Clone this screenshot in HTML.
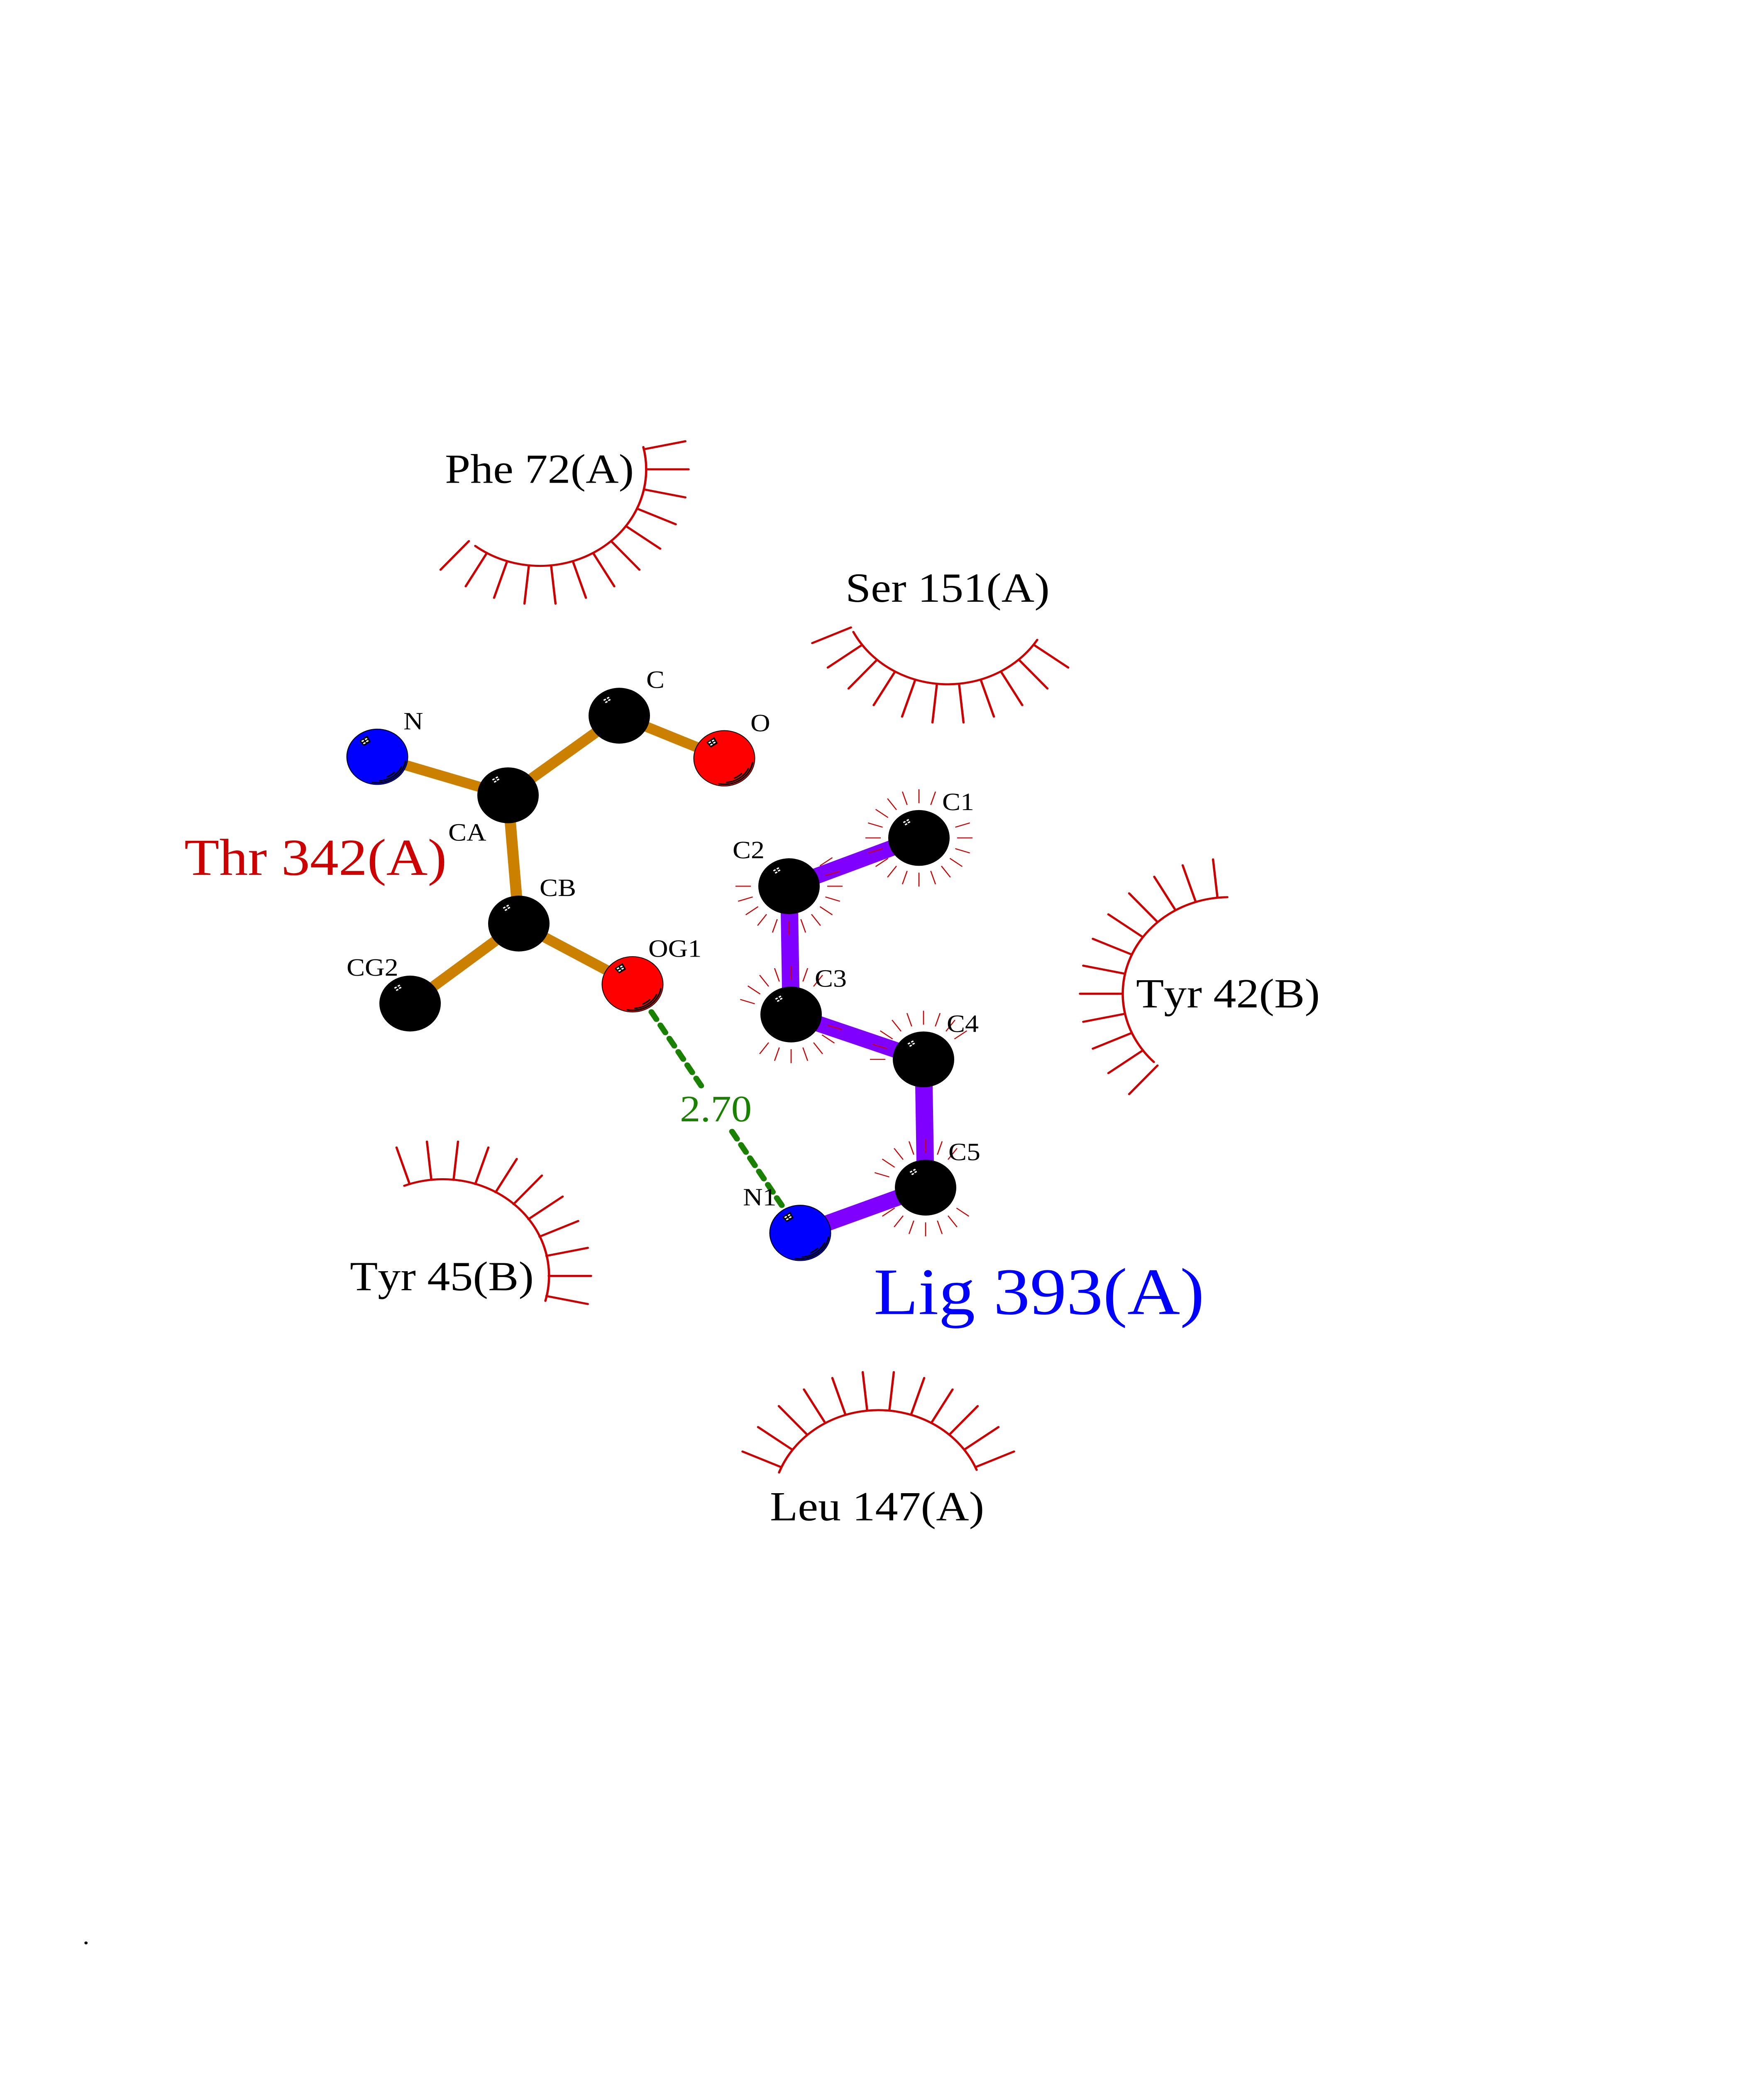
<!DOCTYPE html>
<html>
<head>
<meta charset="utf-8">
<title>Thr 342(A) – Lig 393(A)</title>
<style>
html,body{margin:0;padding:0;background:#fff;width:100%;height:100%;overflow:hidden}
svg{display:block;width:100vw;height:100vh}
text{font-family:"Liberation Serif","Times New Roman",serif;font-kerning:none;text-rendering:geometricPrecision;white-space:pre}
.sp path{fill:none;stroke:#cc0000;stroke-width:5.5;stroke-linecap:round}
.hr path{fill:none;stroke:#cc0000;stroke-width:2.6}
.am{stroke:#cc8000;stroke-width:27;fill:none}
.pu{stroke:#8000ff;stroke-width:42;fill:none}
.hb path{fill:none;stroke:#1a8000;stroke-width:14;stroke-linecap:round}
</style>
</head>
<body>
<svg xmlns="http://www.w3.org/2000/svg" viewBox="0 0 4250 5500" preserveAspectRatio="none">
<defs>
<g id="d" fill="#fff">
<rect x="-38" y="-44" width="6" height="3.6" transform="rotate(-30 -35 -42.2)"/>
<rect x="-30" y="-49" width="6" height="3.6" transform="rotate(-30 -27 -47.2)"/>
<rect x="-27" y="-43.3" width="6" height="3.6" transform="rotate(-30 -24 -41.5)"/>
<rect x="-34" y="-38" width="6" height="3.6" transform="rotate(-30 -31 -36.2)"/>
</g>
<g id="h">
<path d="M-42 -42L-24.5 -55L-17 -40L-32 -30Z" fill="#000" stroke="#000" stroke-width="2" stroke-linejoin="round"/>
<use href="#d"/>
<g fill="none" stroke="#000" stroke-width="3.6" stroke-linecap="round">
<path d="M-12.7 67.7A69 69 0 0 0 68 11.7"/>
<path d="M5.7 63.7A64 64 0 0 0 58 27"/>
<path d="M24.7 52.3A58 58 0 0 0 41.3 41"/>
</g>
</g>
</defs>

<!-- residue eyelashes -->
<g class="sp" transform="translate(1301 1244)">
<path d="M249 -59A256 256 0 0 1 -156 203"/>
<path transform="rotate(-12)" d="M256 0H358"/><path d="M256 0H358"/><path transform="rotate(12)" d="M256 0H358"/><path transform="rotate(24)" d="M256 0H358"/><path transform="rotate(36)" d="M256 0H358"/><path transform="rotate(48)" d="M256 0H358"/><path transform="rotate(60)" d="M256 0H358"/><path transform="rotate(72)" d="M256 0H358"/><path transform="rotate(84)" d="M256 0H358"/><path transform="rotate(96)" d="M256 0H358"/><path transform="rotate(108)" d="M256 0H358"/><path transform="rotate(120)" d="M256 0H358"/><path transform="rotate(132)" d="M256 0H358"/>
</g>
<g class="sp" transform="translate(2284 1559)">
<path d="M215 137A256 256 0 0 1 -228 116"/>
<path transform="rotate(36)" d="M256 0H358"/><path transform="rotate(48)" d="M256 0H358"/><path transform="rotate(60)" d="M256 0H358"/><path transform="rotate(72)" d="M256 0H358"/><path transform="rotate(84)" d="M256 0H358"/><path transform="rotate(96)" d="M256 0H358"/><path transform="rotate(108)" d="M256 0H358"/><path transform="rotate(120)" d="M256 0H358"/><path transform="rotate(132)" d="M256 0H358"/><path transform="rotate(144)" d="M256 0H358"/><path transform="rotate(156)" d="M256 0H358"/>
</g>
<g class="sp" transform="translate(2960 2634)">
<path d="M-3 -256A256 256 0 0 0 -180 181"/>
<path transform="rotate(264)" d="M256 0H358"/><path transform="rotate(252)" d="M256 0H358"/><path transform="rotate(240)" d="M256 0H358"/><path transform="rotate(228)" d="M256 0H358"/><path transform="rotate(216)" d="M256 0H358"/><path transform="rotate(204)" d="M256 0H358"/><path transform="rotate(192)" d="M256 0H358"/><path transform="rotate(180)" d="M256 0H358"/><path transform="rotate(168)" d="M256 0H358"/><path transform="rotate(156)" d="M256 0H358"/><path transform="rotate(144)" d="M256 0H358"/><path transform="rotate(132)" d="M256 0H358"/>
</g>
<g class="sp" transform="translate(1066 3382)">
<path d="M-92 -239A256 256 0 0 1 248 66"/>
<path transform="rotate(-108)" d="M256 0H358"/><path transform="rotate(-96)" d="M256 0H358"/><path transform="rotate(-84)" d="M256 0H358"/><path transform="rotate(-72)" d="M256 0H358"/><path transform="rotate(-60)" d="M256 0H358"/><path transform="rotate(-48)" d="M256 0H358"/><path transform="rotate(-36)" d="M256 0H358"/><path transform="rotate(-24)" d="M256 0H358"/><path transform="rotate(-12)" d="M256 0H358"/><path d="M256 0H358"/><path transform="rotate(12)" d="M256 0H358"/>
</g>
<g class="sp" transform="translate(2116 3993)">
<path d="M-239 -90A256 256 0 0 1 237 -97"/>
<path transform="rotate(204)" d="M256 0H358"/><path transform="rotate(216)" d="M256 0H358"/><path transform="rotate(228)" d="M256 0H358"/><path transform="rotate(240)" d="M256 0H358"/><path transform="rotate(252)" d="M256 0H358"/><path transform="rotate(264)" d="M256 0H358"/><path transform="rotate(276)" d="M256 0H358"/><path transform="rotate(288)" d="M256 0H358"/><path transform="rotate(300)" d="M256 0H358"/><path transform="rotate(312)" d="M256 0H358"/><path transform="rotate(324)" d="M256 0H358"/><path transform="rotate(336)" d="M256 0H358"/>
</g>

<!-- bonds -->
<g class="am">
<path d="M909 2006L1224 2108"/>
<path d="M1224 2108L1492 1897"/>
<path d="M1492 1897L1745 2010"/>
<path d="M1224 2108L1250 2448"/>
<path d="M1250 2448L988 2660"/>
<path d="M1250 2448L1524 2608"/>
</g>
<g class="pu">
<path d="M2214 2221L1901 2349"/>
<path d="M1901 2349L1906 2689"/>
<path d="M1906 2689L2225 2808"/>
<path d="M2225 2808L2230 3148"/>
<path d="M2230 3148L1928 3268"/>
</g>

<!-- hydrophobic hairs on ligand atoms -->
<g class="hr" transform="translate(2214 2221)">
<path transform="rotate(-18)" d="M92 0H129"/><path d="M92 0H129"/><path transform="rotate(18)" d="M92 0H129"/><path transform="rotate(36)" d="M92 0H129"/><path transform="rotate(54)" d="M92 0H129"/><path transform="rotate(72)" d="M92 0H129"/><path transform="rotate(90)" d="M92 0H129"/><path transform="rotate(108)" d="M92 0H129"/><path transform="rotate(126)" d="M92 0H129"/><path transform="rotate(144)" d="M92 0H129"/><path transform="rotate(162)" d="M92 0H129"/><path transform="rotate(180)" d="M92 0H129"/><path transform="rotate(198)" d="M92 0H129"/><path transform="rotate(216)" d="M92 0H129"/><path transform="rotate(234)" d="M92 0H129"/><path transform="rotate(252)" d="M92 0H129"/><path transform="rotate(270)" d="M92 0H129"/><path transform="rotate(288)" d="M92 0H129"/>
</g>
<g class="hr" transform="translate(1901 2349)">
<path transform="rotate(-36)" d="M92 0H129"/><path transform="rotate(-18)" d="M92 0H129"/><path d="M92 0H129"/><path transform="rotate(18)" d="M92 0H129"/><path transform="rotate(36)" d="M92 0H129"/><path transform="rotate(54)" d="M92 0H129"/><path transform="rotate(72)" d="M92 0H129"/><path transform="rotate(90)" d="M92 0H129"/><path transform="rotate(108)" d="M92 0H129"/><path transform="rotate(126)" d="M92 0H129"/><path transform="rotate(144)" d="M92 0H129"/><path transform="rotate(162)" d="M92 0H129"/><path transform="rotate(180)" d="M92 0H129"/>
</g>
<g class="hr" transform="translate(1906 2689)">
<path transform="rotate(-162)" d="M92 0H129"/><path transform="rotate(-144)" d="M92 0H129"/><path transform="rotate(-126)" d="M92 0H129"/><path transform="rotate(-108)" d="M92 0H129"/><path transform="rotate(-90)" d="M92 0H129"/><path transform="rotate(-72)" d="M92 0H129"/><path transform="rotate(-54)" d="M92 0H129"/><path transform="rotate(18)" d="M92 0H129"/><path transform="rotate(36)" d="M92 0H129"/><path transform="rotate(54)" d="M92 0H129"/><path transform="rotate(72)" d="M92 0H129"/><path transform="rotate(90)" d="M92 0H129"/><path transform="rotate(108)" d="M92 0H129"/><path transform="rotate(126)" d="M92 0H129"/>
</g>
<g class="hr" transform="translate(2225 2808)">
<path transform="rotate(180)" d="M92 0H129"/><path transform="rotate(-162)" d="M92 0H129"/><path transform="rotate(-144)" d="M92 0H129"/><path transform="rotate(-126)" d="M92 0H129"/><path transform="rotate(-108)" d="M92 0H129"/><path transform="rotate(-90)" d="M92 0H129"/><path transform="rotate(-72)" d="M92 0H129"/><path transform="rotate(-54)" d="M92 0H129"/><path transform="rotate(-36)" d="M92 0H129"/>
</g>
<g class="hr" transform="translate(2230 3148)">
<path transform="rotate(-162)" d="M92 0H129"/><path transform="rotate(-144)" d="M92 0H129"/><path transform="rotate(-126)" d="M92 0H129"/><path transform="rotate(-108)" d="M92 0H129"/><path transform="rotate(-90)" d="M92 0H129"/><path transform="rotate(-72)" d="M92 0H129"/><path transform="rotate(-54)" d="M92 0H129"/><path transform="rotate(36)" d="M92 0H129"/><path transform="rotate(54)" d="M92 0H129"/><path transform="rotate(72)" d="M92 0H129"/><path transform="rotate(90)" d="M92 0H129"/><path transform="rotate(108)" d="M92 0H129"/><path transform="rotate(126)" d="M92 0H129"/><path transform="rotate(144)" d="M92 0H129"/>
</g>

<!-- hydrogen bond -->
<g class="hb" transform="translate(1524 2608) rotate(58.5)">
<path d="M87 0h23"/><path d="M128.300 0h23"/><path d="M169.600 0h23"/><path d="M210.900 0h23"/><path d="M252.200 0h23"/><path d="M293.500 0h23"/>
<path d="M458.700 0h23"/><path d="M500 0h23"/><path d="M541.300 0h23"/><path d="M582.600 0h23"/><path d="M623.900 0h23"/><path d="M665.200 0h23"/>
</g>

<!-- atoms -->
<g transform="translate(909 2006)"><circle r="73.500" fill="#0000ff" stroke="#000" stroke-width="2"/><use href="#h"/></g>
<g transform="translate(1224 2108)"><circle r="74" fill="#000"/><use href="#d"/></g>
<g transform="translate(1492 1897)"><circle r="74" fill="#000"/><use href="#d"/></g>
<g transform="translate(1745 2010)"><circle r="73.500" fill="#ff0000" stroke="#000" stroke-width="2"/><use href="#h"/></g>
<g transform="translate(1250 2448)"><circle r="74" fill="#000"/><use href="#d"/></g>
<g transform="translate(988 2660)"><circle r="74" fill="#000"/><use href="#d"/></g>
<g transform="translate(1524 2609)"><circle r="73.500" fill="#ff0000" stroke="#000" stroke-width="2"/><use href="#h"/></g>
<g transform="translate(2214 2221)"><circle r="74" fill="#000"/><use href="#d"/></g>
<g transform="translate(1901 2349)"><circle r="74" fill="#000"/><use href="#d"/></g>
<g transform="translate(1906 2689)"><circle r="74" fill="#000"/><use href="#d"/></g>
<g transform="translate(2225 2808)"><circle r="74" fill="#000"/><use href="#d"/></g>
<g transform="translate(2230 3148)"><circle r="74" fill="#000"/><use href="#d"/></g>
<g transform="translate(1928 3268)"><circle r="73.500" fill="#0000ff" stroke="#000" stroke-width="2"/><use href="#h"/></g>

<!-- residue labels -->
<g font-size="110" fill="#000">
<text x="1072" y="1280">Phe 72(A)</text>
<text x="2037" y="1595">Ser 151(A)</text>
<text x="2737" y="2670">Tyr 42(B)</text>
<text x="843" y="3420">Tyr 45(B)</text>
<text x="1855" y="4030">Leu 147(A)</text>
</g>
<text x="444" y="2319" font-size="138" fill="#cc0000">Thr 342(A)</text>
<text x="2105" y="3483" font-size="176" fill="#0000ff">Lig 393(A)</text>
<text x="1638" y="2972" font-size="99" fill="#1a8000">2.70</text>

<!-- atom labels -->
<g font-size="66" fill="#000">
<text x="972" y="1933">N</text>
<text x="1080" y="2228">CA</text>
<text x="1557" y="1823">C</text>
<text x="1808" y="1938">O</text>
<text x="1300" y="2375">CB</text>
<text x="835" y="2586">CG2</text>
<text x="1562" y="2536">OG1</text>
<text x="2270" y="2147">C1</text>
<text x="1765" y="2275">C2</text>
<text x="1963" y="2615">C3</text>
<text x="2281" y="2735">C4</text>
<text x="2285" y="3075">C5</text>
<text x="1790" y="3195">N1</text>
</g>
<text x="199" y="5153" font-size="66" fill="#000">.</text>
</svg>
</body>
</html>
